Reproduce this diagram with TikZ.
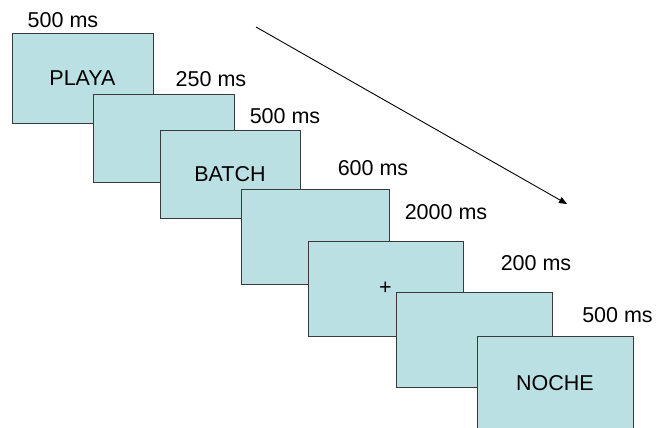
\documentclass[tikz,border=0pt]{standalone}
\usepackage{fontspec}
\setmainfont{Liberation Sans}
\usetikzlibrary{arrows.meta}
\definecolor{screenfill}{HTML}{BBE0E3}
\definecolor{screenline}{HTML}{3A3A3A}
\tikzset{
  screen/.style={draw=screenline, line width=1pt, fill=screenfill, inner sep=0pt,
    font=\fontsize{21.5}{25}\selectfont},
  dur/.style={inner sep=0pt, font=\fontsize{21.5}{25}\selectfont},
}
\begin{document}
\begin{tikzpicture}[x=1pt, y=-1pt]
  \useasboundingbox (0,0) rectangle (656,428);
  \clip (0,0) rectangle (656,428);

  % stimulus screens, drawn back to front
  \node[screen, minimum width=141pt, minimum height=89pt] (s1) at (82.5,78.5) {PLAYA};
  \node[screen, minimum width=141pt, minimum height=88pt] (s2) at (163.5,138) {};
  \node[screen, minimum width=140pt, minimum height=88pt] (s3) at (230,174) {BATCH};
  \node[screen, minimum width=148pt, minimum height=95pt] (s4) at (315,236.5) {};
  \node[screen, minimum width=155pt, minimum height=95pt] (s5) at (385.5,288.5) {+};
  \node[screen, minimum width=156pt, minimum height=95pt] (s6) at (474,339.5) {};
  \node[screen, minimum width=156pt, minimum height=95pt] (s7) at (555,383.5) {NOCHE};

  % durations
  \node[dur] (d1) at (63,20) {500 ms};
  \node[dur] (d2) at (211,79) {250 ms};
  \node[dur] (d3) at (285,116) {500 ms};
  \node[dur] (d4) at (373,168) {600 ms};
  \node[dur] (d5) at (446,212) {2000 ms};
  \node[dur] (d6) at (536,263) {200 ms};
  \node[dur] (d7) at (617.5,315) {500 ms};

  % time arrow
  \coordinate (tstart) at (256,27);
  \coordinate (tend) at (567,204);
  \draw[line width=0.9pt, -{Triangle[length=8pt,width=6.5pt]}] (tstart) -- (tend);
\end{tikzpicture}
\end{document}
